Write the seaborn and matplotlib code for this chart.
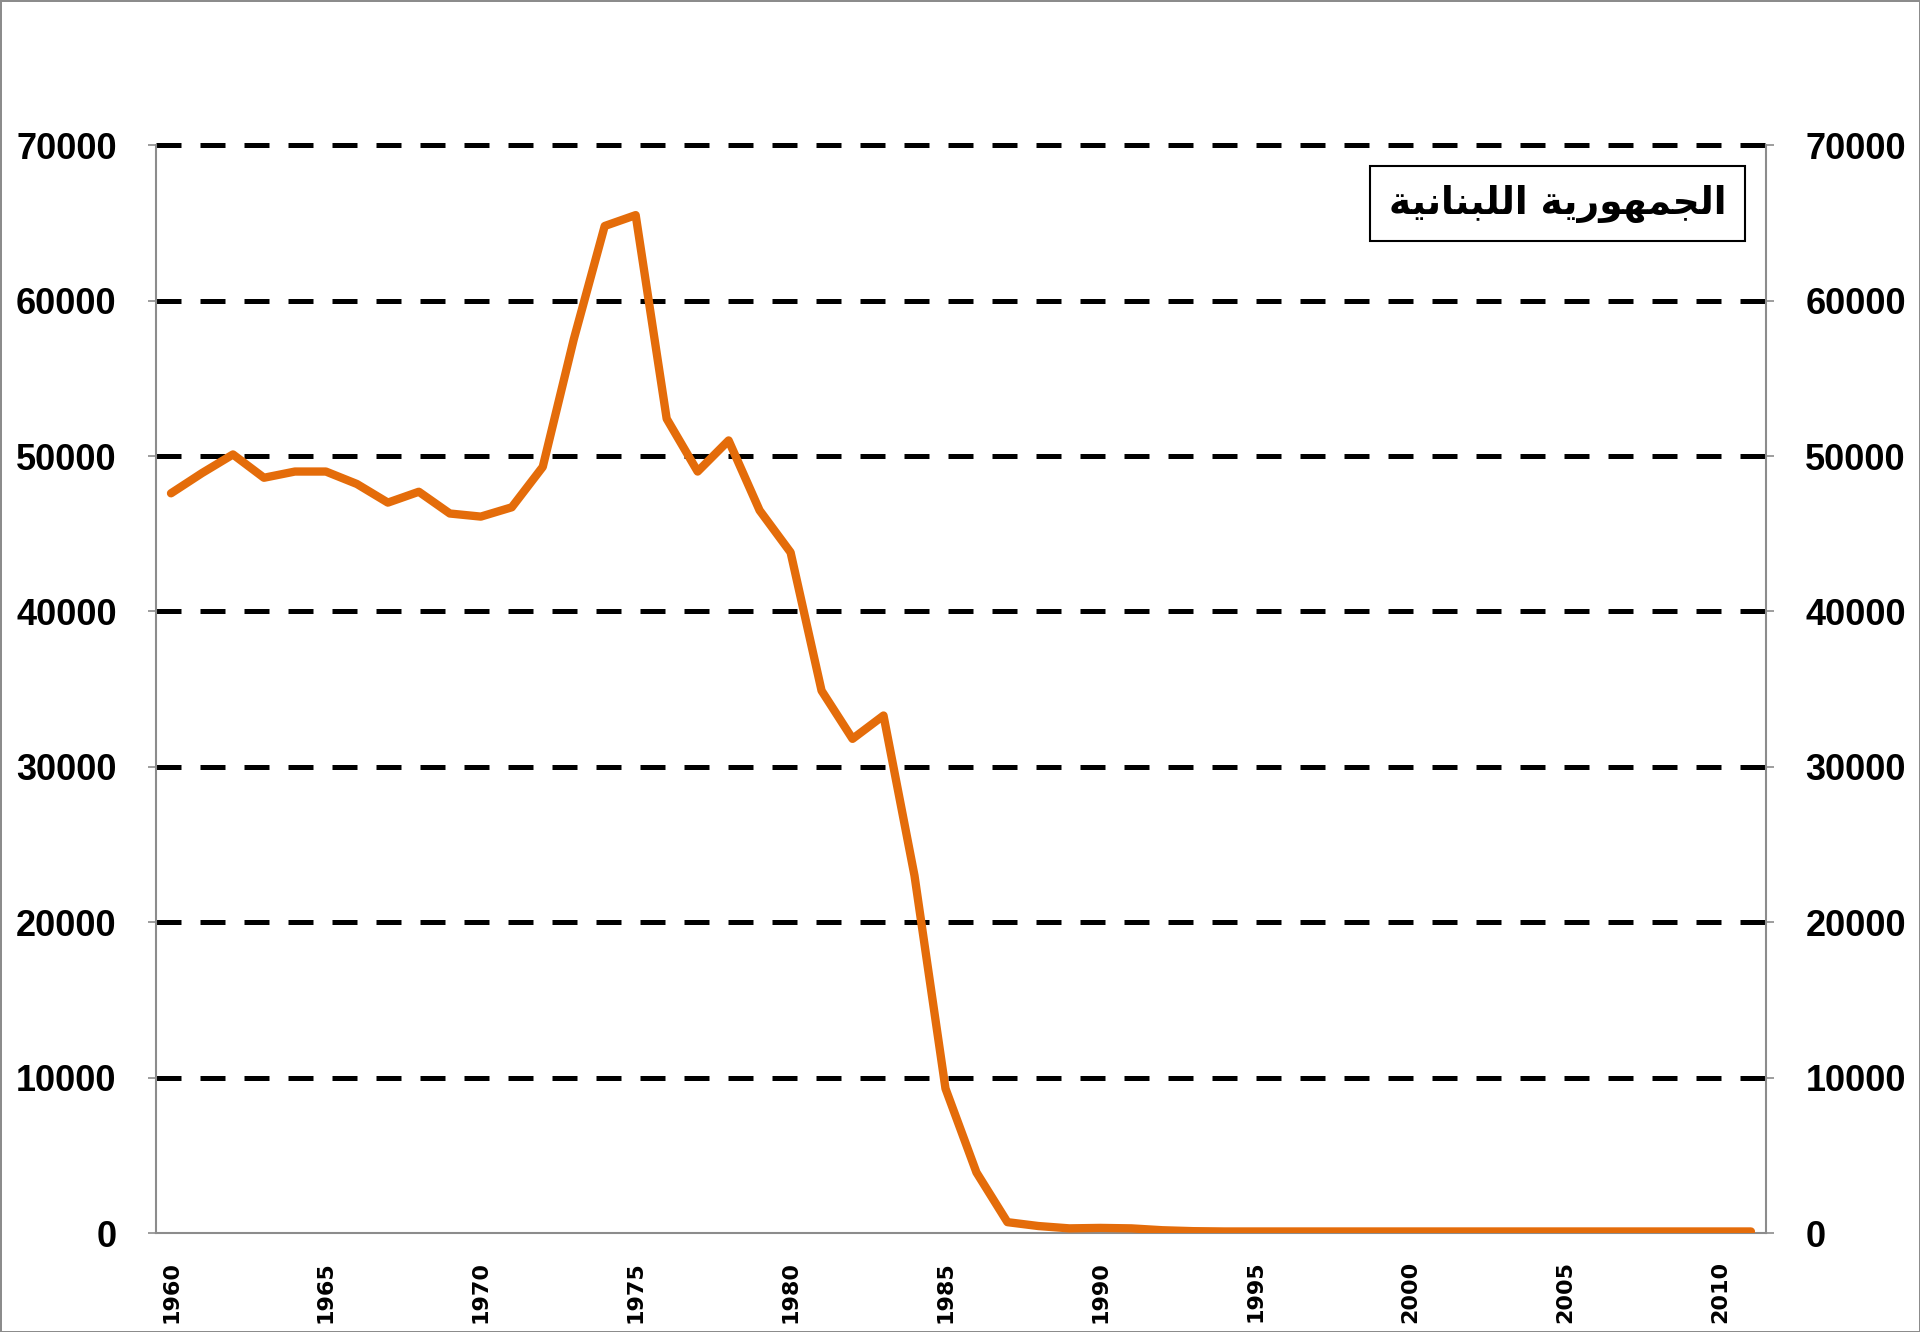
import matplotlib
matplotlib.use("Agg")
import matplotlib.pyplot as plt
import seaborn as sns
import pandas as pd

years = list(range(1960, 2012))
values = [47600, 48900, 50100, 48600, 49000, 49000, 48200, 47000, 47700, 46300,
          46100, 46700, 49300, 57500, 64800, 65500, 52400, 49000, 51000, 46500,
          43800, 34900, 31800, 33300, 23000, 9300, 3900, 700, 450, 300,
          330, 300, 180, 120, 100, 100, 100, 100, 100, 100,
          100, 100, 100, 100, 100, 100, 100, 100, 100, 100,
          100, 100]
y_ticks = [0, 10000, 20000, 30000, 40000, 50000, 60000, 70000]
x_ticks = [1960, 1965, 1970, 1975, 1980, 1985, 1990, 1995, 2000, 2005, 2010]
label = "الجمهورية اللبنانية"

# matplotlib has no arabic shaping, so pick the presentation forms by hand
forms = {
    "ا": (0xFE8D, 0xFE8E, None, None),
    "ل": (0xFEDD, 0xFEDE, 0xFEDF, 0xFEE0),
    "ج": (0xFE9D, 0xFE9E, 0xFE9F, 0xFEA0),
    "م": (0xFEE1, 0xFEE2, 0xFEE3, 0xFEE4),
    "ه": (0xFEE9, 0xFEEA, 0xFEEB, 0xFEEC),
    "و": (0xFEED, 0xFEEE, None, None),
    "ر": (0xFEAD, 0xFEAE, None, None),
    "ي": (0xFEF1, 0xFEF2, 0xFEF3, 0xFEF4),
    "ة": (0xFE93, 0xFE94, None, None),
    "ب": (0xFE8F, 0xFE90, 0xFE91, 0xFE92),
    "ن": (0xFEE5, 0xFEE6, 0xFEE7, 0xFEE8),
}

def shape(text):
    out = []
    for i, ch in enumerate(text):
        if ch not in forms:
            out.append(ch)
            continue
        prev = text[i - 1] if i > 0 else " "
        nxt = text[i + 1] if i + 1 < len(text) else " "
        joins_prev = prev in forms and forms[prev][2] is not None
        joins_next = nxt in forms and forms[ch][2] is not None
        iso, fin, ini, med = forms[ch]
        if joins_prev and joins_next:
            c = med
        elif joins_prev:
            c = fin
        elif joins_next:
            c = ini
        else:
            c = iso
        out.append(chr(c))
    return "".join(reversed(out))


df = pd.DataFrame({"year": years, "value": values})

sns.set_style("white")
plt.rcParams["font.family"] = ["Liberation Sans", "DejaVu Sans"]
plt.rcParams["text.color"] = "black"
plt.rcParams["xtick.color"] = "black"
plt.rcParams["ytick.color"] = "black"

fig = plt.figure(figsize=(19.2, 13.32), dpi=100)
fig.patch.set_edgecolor("#8c8c8c")
fig.patch.set_linewidth(2)
ax = fig.add_axes([0.081, 0.0743, 0.839, 0.8167])

sns.lineplot(data=df, x="year", y="value", ax=ax, color="#E46C0A",
             linewidth=6, label=shape(label), zorder=3)

ax.set_xlim(1959.5, 2011.5)
ax.set_ylim(0, 70000)
ax.set_yticks(y_ticks)
ax.set_yticklabels([str(v) for v in y_ticks])
ax.set_xticks(x_ticks)
ax.set_xticklabels([str(v) for v in x_ticks], rotation=90,
                   fontfamily="DejaVu Sans", fontweight="bold", fontsize=16)
ax.set_xlabel("")
ax.set_ylabel("")

for v in y_ticks[1:]:
    ax.axhline(v, color="black", linewidth=3.6, linestyle=(0, (5, 3.8)),
               zorder=2, clip_on=False)

for s in ["left", "right", "bottom"]:
    ax.spines[s].set_color("#8c8c8c")
    ax.spines[s].set_linewidth(1.5)
ax.spines["top"].set_visible(False)

ax.tick_params(axis="y", left=True, right=True, labelleft=True, labelright=True,
               length=6, width=1.2, color="#8c8c8c", labelcolor="black",
               pad=22, labelsize=26)
for t in ax.get_yticklabels():
    t.set_fontweight("bold")
ax.tick_params(axis="x", length=0, pad=20, labelcolor="black")

leg = ax.legend(loc="upper right", bbox_to_anchor=(0.987, 0.981), borderaxespad=0,
                handlelength=0, handletextpad=0, fancybox=False, framealpha=1,
                borderpad=0.5,
                prop={"family": "DejaVu Sans", "weight": "bold", "size": 27})
leg.get_frame().set_edgecolor("black")
leg.get_frame().set_linewidth(1.5)
for t in leg.get_texts():
    t.set_color("black")
for h in leg.legend_handles:
    h.set_visible(False)

fig.savefig("out.png", dpi=100)
